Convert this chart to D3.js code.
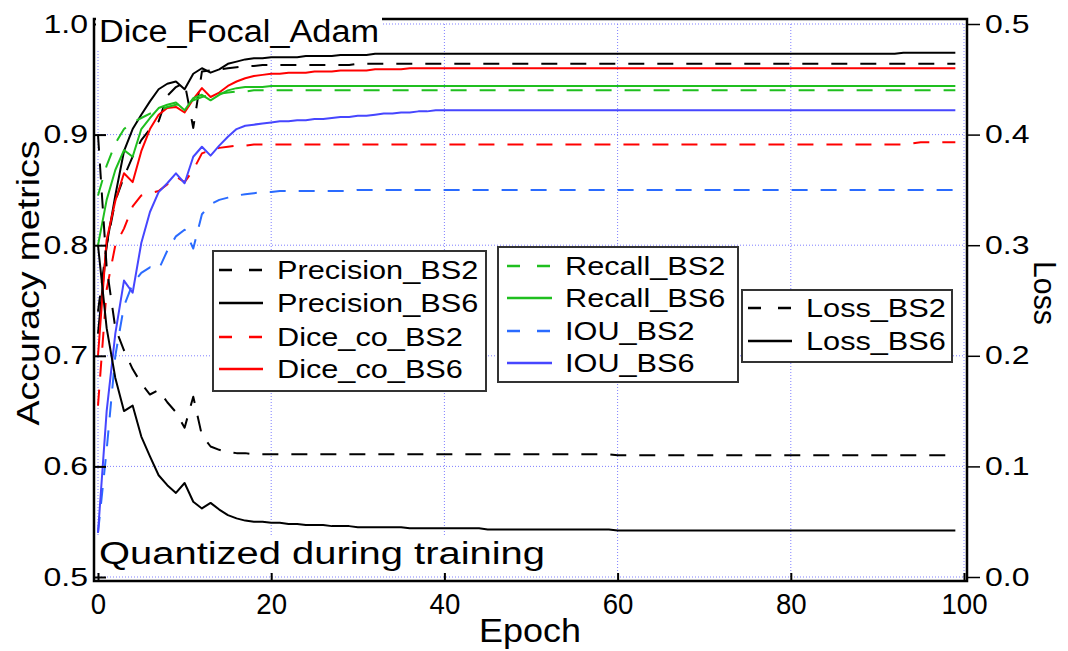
<!DOCTYPE html>
<html><head><meta charset="utf-8">
<script src="https://cdn.jsdelivr.net/npm/d3@7"></script>
<style>
body{margin:0;background:#fff}
svg{display:block}
text{font-family:"Liberation Sans",Arial,Helvetica,sans-serif;fill:#000}
</style>
</head><body>
<svg id="c" width="1068" height="651"></svg>
<script>
// ---------------- DATA (epoch = array index, 0..99) ----------------
const precisionBS2 = [
0.740,0.800,0.840,0.862,0.880,0.895,0.905,0.912,0.935,0.943,
0.947,0.906,0.957,0.958,0.959,0.960,0.961,0.962,0.962,0.963,
0.963,0.963,0.963,0.963,0.963,0.963,0.963,0.963,0.963,0.963,
0.964,0.964,0.964,0.964,0.964,0.964,0.964,0.964,0.964,0.964,
0.964,0.964,0.964,0.964,0.964,0.964,0.964,0.964,0.964,0.964,
0.964,0.964,0.964,0.964,0.964,0.964,0.964,0.964,0.964,0.964,
0.964,0.964,0.964,0.964,0.964,0.964,0.964,0.964,0.964,0.964,
0.964,0.964,0.964,0.964,0.964,0.964,0.964,0.964,0.964,0.964,
0.964,0.964,0.964,0.964,0.964,0.964,0.964,0.964,0.964,0.964,
0.964,0.964,0.964,0.964,0.964,0.964,0.964,0.964,0.964,0.964];
const precisionBS6 = [
0.720,0.800,0.845,0.885,0.905,0.918,0.930,0.941,0.946,0.948,
0.941,0.955,0.960,0.956,0.959,0.964,0.966,0.968,0.969,0.969,
0.970,0.970,0.970,0.970,0.971,0.971,0.971,0.971,0.972,0.972,
0.972,0.972,0.973,0.973,0.973,0.973,0.973,0.973,0.973,0.973,
0.973,0.973,0.973,0.973,0.973,0.973,0.973,0.973,0.973,0.973,
0.973,0.973,0.973,0.973,0.973,0.973,0.973,0.973,0.973,0.973,
0.973,0.973,0.973,0.973,0.973,0.973,0.973,0.973,0.973,0.973,
0.973,0.973,0.973,0.973,0.973,0.973,0.973,0.973,0.973,0.973,
0.973,0.973,0.973,0.973,0.973,0.973,0.973,0.973,0.973,0.973,
0.973,0.973,0.973,0.974,0.974,0.974,0.974,0.974,0.974,0.974];
const diceBS2 = [
0.655,0.760,0.800,0.815,0.835,0.845,0.847,0.849,0.855,0.862,
0.857,0.868,0.883,0.886,0.888,0.889,0.890,0.890,0.891,0.891,
0.891,0.891,0.891,0.891,0.891,0.891,0.891,0.891,0.891,0.891,
0.891,0.891,0.891,0.891,0.891,0.891,0.891,0.891,0.891,0.891,
0.891,0.891,0.891,0.891,0.891,0.891,0.891,0.891,0.891,0.891,
0.891,0.891,0.891,0.891,0.891,0.891,0.891,0.891,0.891,0.891,
0.891,0.891,0.891,0.891,0.891,0.891,0.891,0.891,0.891,0.891,
0.891,0.891,0.891,0.891,0.891,0.891,0.891,0.891,0.891,0.891,
0.891,0.891,0.891,0.891,0.891,0.891,0.891,0.891,0.891,0.891,
0.891,0.891,0.891,0.891,0.892,0.893,0.893,0.893,0.893,0.893];
const diceBS6 = [
0.700,0.805,0.840,0.865,0.857,0.885,0.905,0.918,0.924,0.925,
0.920,0.932,0.942,0.934,0.938,0.944,0.948,0.951,0.953,0.954,
0.955,0.955,0.956,0.956,0.956,0.957,0.957,0.957,0.958,0.958,
0.958,0.958,0.959,0.959,0.959,0.959,0.960,0.960,0.960,0.960,
0.960,0.960,0.960,0.960,0.960,0.960,0.960,0.960,0.960,0.960,
0.960,0.960,0.960,0.960,0.960,0.960,0.960,0.960,0.960,0.960,
0.960,0.960,0.960,0.960,0.960,0.960,0.960,0.960,0.960,0.960,
0.960,0.960,0.960,0.960,0.960,0.960,0.960,0.960,0.960,0.960,
0.960,0.960,0.960,0.960,0.960,0.960,0.960,0.960,0.960,0.960,
0.960,0.960,0.960,0.960,0.960,0.960,0.960,0.960,0.960,0.960];
const recallBS2 = [
0.845,0.872,0.892,0.905,0.911,0.915,0.919,0.922,0.925,0.927,
0.928,0.931,0.934,0.936,0.937,0.938,0.939,0.939,0.940,0.940,
0.940,0.940,0.940,0.940,0.940,0.940,0.940,0.940,0.940,0.940,
0.940,0.940,0.940,0.940,0.940,0.940,0.940,0.940,0.940,0.940,
0.940,0.940,0.940,0.940,0.940,0.940,0.940,0.940,0.940,0.940,
0.940,0.940,0.940,0.940,0.940,0.940,0.940,0.940,0.940,0.940,
0.940,0.940,0.940,0.940,0.940,0.940,0.940,0.940,0.940,0.940,
0.940,0.940,0.940,0.940,0.940,0.940,0.940,0.940,0.940,0.940,
0.940,0.940,0.940,0.940,0.940,0.940,0.940,0.940,0.940,0.940,
0.940,0.940,0.940,0.940,0.940,0.940,0.940,0.940,0.940,0.940];
const recallBS6 = [
0.800,0.841,0.868,0.886,0.880,0.905,0.915,0.924,0.927,0.929,
0.922,0.933,0.936,0.931,0.936,0.940,0.942,0.943,0.943,0.943,
0.944,0.944,0.944,0.944,0.944,0.944,0.944,0.944,0.944,0.944,
0.944,0.944,0.944,0.944,0.944,0.944,0.944,0.944,0.944,0.944,
0.944,0.944,0.944,0.944,0.944,0.944,0.944,0.944,0.944,0.944,
0.944,0.944,0.944,0.944,0.944,0.944,0.944,0.944,0.944,0.944,
0.944,0.944,0.944,0.944,0.944,0.944,0.944,0.944,0.944,0.944,
0.944,0.944,0.944,0.944,0.944,0.944,0.944,0.944,0.944,0.944,
0.944,0.944,0.944,0.944,0.944,0.944,0.944,0.944,0.944,0.944,
0.944,0.944,0.944,0.944,0.944,0.944,0.944,0.944,0.944,0.944];
const iouBS2 = [
0.540,0.615,0.700,0.745,0.765,0.775,0.780,0.778,0.795,0.808,
0.814,0.797,0.828,0.837,0.841,0.843,0.845,0.846,0.847,0.848,
0.848,0.849,0.849,0.849,0.849,0.849,0.849,0.849,0.849,0.849,
0.850,0.850,0.850,0.850,0.850,0.850,0.850,0.850,0.850,0.850,
0.850,0.850,0.850,0.850,0.850,0.850,0.850,0.850,0.850,0.850,
0.850,0.850,0.850,0.850,0.850,0.850,0.850,0.850,0.850,0.850,
0.850,0.850,0.850,0.850,0.850,0.850,0.850,0.850,0.850,0.850,
0.850,0.850,0.850,0.850,0.850,0.850,0.850,0.850,0.850,0.850,
0.850,0.850,0.850,0.850,0.850,0.850,0.850,0.850,0.850,0.850,
0.850,0.850,0.850,0.850,0.850,0.850,0.850,0.850,0.850,0.850];
const iouBS6 = [
0.540,0.650,0.720,0.768,0.757,0.802,0.830,0.848,0.856,0.865,
0.856,0.880,0.889,0.881,0.890,0.898,0.905,0.908,0.909,0.910,
0.911,0.912,0.912,0.913,0.913,0.914,0.914,0.915,0.916,0.916,
0.917,0.917,0.918,0.919,0.919,0.920,0.920,0.921,0.921,0.922,
0.922,0.922,0.922,0.922,0.922,0.922,0.922,0.922,0.922,0.922,
0.922,0.922,0.922,0.922,0.922,0.922,0.922,0.922,0.922,0.922,
0.922,0.922,0.922,0.922,0.922,0.922,0.922,0.922,0.922,0.922,
0.922,0.922,0.922,0.922,0.922,0.922,0.922,0.922,0.922,0.922,
0.922,0.922,0.922,0.922,0.922,0.922,0.922,0.922,0.922,0.922,
0.922,0.922,0.922,0.922,0.922,0.922,0.922,0.922,0.922,0.922];
const lossBS2 = [
0.400,0.280,0.225,0.205,0.188,0.175,0.165,0.169,0.158,0.149,
0.135,0.163,0.128,0.118,0.115,0.113,0.112,0.112,0.111,0.111,
0.111,0.111,0.111,0.111,0.111,0.111,0.111,0.111,0.111,0.111,
0.111,0.111,0.111,0.111,0.111,0.111,0.111,0.111,0.111,0.111,
0.111,0.111,0.111,0.111,0.111,0.111,0.111,0.111,0.111,0.111,
0.111,0.111,0.111,0.111,0.111,0.111,0.111,0.111,0.111,0.111,
0.110,0.110,0.110,0.110,0.110,0.110,0.110,0.110,0.110,0.110,
0.110,0.110,0.110,0.110,0.110,0.110,0.110,0.110,0.110,0.110,
0.110,0.110,0.110,0.110,0.110,0.110,0.110,0.110,0.110,0.110,
0.110,0.110,0.110,0.110,0.110,0.110,0.110,0.110,0.110,0.110];
const lossBS6 = [
0.300,0.225,0.180,0.150,0.155,0.127,0.109,0.092,0.083,0.076,
0.085,0.068,0.062,0.067,0.061,0.056,0.053,0.051,0.050,0.050,
0.049,0.049,0.048,0.048,0.047,0.047,0.047,0.046,0.046,0.046,
0.045,0.045,0.045,0.045,0.045,0.045,0.044,0.044,0.044,0.044,
0.044,0.044,0.044,0.044,0.044,0.043,0.043,0.043,0.043,0.043,
0.043,0.043,0.043,0.043,0.043,0.043,0.043,0.043,0.043,0.043,
0.042,0.042,0.042,0.042,0.042,0.042,0.042,0.042,0.042,0.042,
0.042,0.042,0.042,0.042,0.042,0.042,0.042,0.042,0.042,0.042,
0.042,0.042,0.042,0.042,0.042,0.042,0.042,0.042,0.042,0.042,
0.042,0.042,0.042,0.042,0.042,0.042,0.042,0.042,0.042,0.042];

const xTicks = [0, 20, 40, 60, 80, 100];
const yLeftTicks = [0.5, 0.6, 0.7, 0.8, 0.9, 1.0];
const yRightTicks = [0.0, 0.1, 0.2, 0.3, 0.4, 0.5];
const legend1Labels = ["Precision_BS2", "Precision_BS6", "Dice_co_BS2", "Dice_co_BS6"];
const legend2Labels = ["Recall_BS2", "Recall_BS6", "IOU_BS2", "IOU_BS6"];
const legend3Labels = ["Loss_BS2", "Loss_BS6"];

// ---------------- CHART ----------------
const svg = d3.select('#c');
const x = d3.scaleLinear().domain([0, 100]).range([98, 964]);
const yL = d3.scaleLinear().domain([0.5, 1.0]).range([577, 24]);
const yR = d3.scaleLinear().domain([0, 0.5]).range([577, 24]);

const BLACK = '#000', RED = '#ff0000', GREEN = '#1fbf1f', BLUE = '#4646ff', BLUED = '#2a6bff';
const DASH = '16,13';

function stretch(sel, f) {
  sel.each(function () {
    const w = this.getComputedTextLength();
    d3.select(this).attr('textLength', w * f).attr('lengthAdjust', 'spacingAndGlyphs');
  });
}
function fitWidth(sel, w) {
  sel.attr('textLength', w).attr('lengthAdjust', 'spacingAndGlyphs');
}

// grid
const grid = svg.append('g').attr('stroke', '#7f7fff').attr('stroke-width', 1).attr('stroke-dasharray', '1,2');
grid.selectAll('line.v').data(xTicks).join('line')
  .attr('x1', d => x(d)).attr('x2', d => x(d)).attr('y1', yL(1.0)).attr('y2', yL(0.5));
grid.selectAll('line.h').data(yLeftTicks).join('line')
  .attr('x1', x(0)).attr('x2', x(100)).attr('y1', d => yL(d)).attr('y2', d => yL(d));

// series
const series = [
  {label: 'Precision_BS2', v: precisionBS2, y: yL, c: BLACK, d: DASH},
  {label: 'Precision_BS6', v: precisionBS6, y: yL, c: BLACK, d: null},
  {label: 'Dice_co_BS2', v: diceBS2, y: yL, c: RED, d: DASH},
  {label: 'Dice_co_BS6', v: diceBS6, y: yL, c: RED, d: null},
  {label: 'Recall_BS2', v: recallBS2, y: yL, c: GREEN, d: DASH},
  {label: 'Recall_BS6', v: recallBS6, y: yL, c: GREEN, d: null},
  {label: 'IOU_BS2', v: iouBS2, y: yL, c: BLUED, d: DASH},
  {label: 'IOU_BS6', v: iouBS6, y: yL, c: BLUE, d: null},
  {label: 'Loss_BS2', v: lossBS2, y: yR, c: BLACK, d: DASH},
  {label: 'Loss_BS6', v: lossBS6, y: yR, c: BLACK, d: null}
];
const lines = svg.append('g').attr('fill', 'none');
series.forEach(s => {
  const gen = d3.line().x((d, i) => x(i)).y(d => s.y(d));
  lines.append('path').attr('d', gen(s.v)).attr('stroke', s.c).attr('stroke-width', 2)
    .attr('stroke-dasharray', s.d).attr('stroke-linejoin', 'round');
});

// frame
svg.append('rect').attr('x', 94).attr('y', 19).attr('width', 873).attr('height', 562)
  .attr('fill', 'none').attr('stroke', '#000').attr('stroke-width', 2.5);

// axes
const left = svg.append('g').attr('transform', 'translate(94,0)')
  .call(d3.axisLeft(yL).tickValues(yLeftTicks).tickSize(-12).tickPadding(6).tickFormat(d3.format('.1f')));
left.select('.domain').remove();
left.selectAll('.tick line').attr('stroke', '#000').attr('stroke-width', 2);
left.selectAll('text').attr('font-size', 25).attr('font-family', null).call(stretch, 1.28);

const right = svg.append('g').attr('transform', 'translate(967,0)')
  .call(d3.axisRight(yR).tickValues(yRightTicks).tickSize(13).tickPadding(5).tickFormat(d3.format('.1f')));
right.select('.domain').remove();
right.selectAll('.tick line').attr('stroke', '#000').attr('stroke-width', 1.5);
right.selectAll('text').attr('font-size', 25).attr('font-family', null).call(stretch, 1.28);

const bottom = svg.append('g').attr('transform', 'translate(0,581)')
  .call(d3.axisBottom(x).tickValues(xTicks).tickSize(-8).tickPadding(12));
bottom.select('.domain').remove();
bottom.selectAll('.tick line').attr('stroke', '#000').attr('stroke-width', 2);
bottom.selectAll('text').attr('font-size', 30).attr('font-family', null).call(stretch, 0.92);

// axis titles
svg.append('text').attr('x', 530).attr('y', 642).attr('text-anchor', 'middle').attr('font-size', 33)
  .text('Epoch').call(fitWidth, 102);
svg.append('text').attr('transform', 'translate(39,283) rotate(-90)').attr('text-anchor', 'middle')
  .attr('font-size', 31).text('Accuracy metrics').call(fitWidth, 285);
svg.append('text').attr('transform', 'translate(1034,293) rotate(90)').attr('text-anchor', 'middle')
  .attr('font-size', 31).text('Loss').call(fitWidth, 64);

// annotations with white boxes
svg.append('rect').attr('x', 96).attr('y', 15).attr('width', 286).attr('height', 34).attr('fill', '#fff');
svg.append('text').attr('x', 99).attr('y', 42).attr('font-size', 31).text('Dice_Focal_Adam').call(fitWidth, 280);
svg.append('rect').attr('x', 96).attr('y', 537).attr('width', 452).attr('height', 35).attr('fill', '#fff');
svg.append('text').attr('x', 99).attr('y', 564).attr('font-size', 31).text('Quantized during training').call(fitWidth, 446);

// legends
function legend(box, labels, rows, sx0, sx1, tx) {
  const g = svg.append('g');
  g.append('rect').attr('x', box[0]).attr('y', box[1]).attr('width', box[2]).attr('height', box[3])
    .attr('fill', '#fff').attr('stroke', '#333').attr('stroke-width', 2);
  labels.forEach((lab, i) => {
    const s = series.find(q => q.label === lab);
    g.append('line').attr('x1', sx0).attr('x2', sx1).attr('y1', rows[i]).attr('y2', rows[i])
      .attr('stroke', s.c).attr('stroke-width', 2.5).attr('stroke-dasharray', s.d ? '13,17' : null);
    g.append('text').attr('x', tx).attr('y', rows[i]).attr('dy', '0.36em').attr('font-size', 26)
      .text(lab).call(stretch, 1.18);
  });
}
legend([213, 251, 273, 140], legend1Labels, [270, 303, 337, 369], 219, 263, 277);
legend([498, 247, 240, 135], legend2Labels, [266, 298, 331, 363], 507, 552, 565);
legend([742, 290, 210, 72], legend3Labels, [308, 341], 748, 792, 806);
</script>
</body></html>
